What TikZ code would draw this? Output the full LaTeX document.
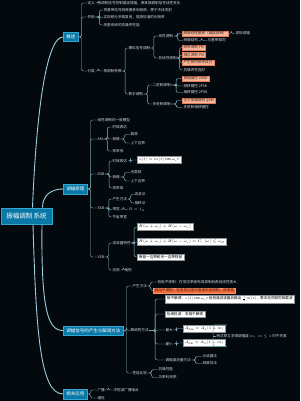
\documentclass[tikz,border=0pt]{standalone}
\usepackage{fix-cm}
\usepackage{amsmath}
\usepackage{fontspec}
\setmainfont{Noto Sans CJK SC}
\usetikzlibrary{calc}
\definecolor{MapBg}{HTML}{04090D}
\definecolor{MapBlue}{HTML}{0A78A6}
\definecolor{MapBlueLine}{HTML}{35A6D2}
\definecolor{TrunkTeal}{HTML}{9CCFDD}
\definecolor{TwigTeal}{HTML}{86B7C8}
\definecolor{LeafText}{HTML}{D4DADE}
\definecolor{Salmon}{HTML}{F7B59B}
\definecolor{SalmonLine}{HTML}{E27D5A}
\definecolor{SalmonText}{HTML}{3A2820}
\definecolor{AlertOrange}{HTML}{EE6A3A}
\definecolor{AlertLine}{HTML}{F8946A}
\definecolor{AlertText}{HTML}{4A1808}
\definecolor{FormLine}{HTML}{8C9296}
\definecolor{SumGreen}{HTML}{41A88F}

\begin{document}
\begin{tikzpicture}[
  x=1pt,y=-1pt,
  rootbox/.style={
    draw=MapBlueLine,
    fill=MapBlue,
    line width=0.7pt,
    text=white,
    font=\fontsize{6.5}{7.5}\selectfont,
    minimum width=51pt,
    minimum height=16pt,
    inner sep=1pt
  },
  mainbox/.style={
    anchor=west,
    draw=MapBlueLine,
    fill=MapBlue,
    line width=0.5pt,
    text=white,
    font=\fontsize{4.5}{5.2}\selectfont,
    minimum height=9.5pt,
    inner xsep=3pt,
    inner ysep=1pt
  },
  leaf/.style={
    anchor=west,
    text=LeafText,
    font=\fontsize{3.6}{4.2}\selectfont,
    inner sep=0.4pt
  },
  hotbox/.style={
    leaf,
    draw=SalmonLine,
    fill=Salmon,
    text=SalmonText,
    line width=0.35pt,
    inner xsep=1.4pt,
    inner ysep=0.9pt
  },
  alertbox/.style={
    leaf,
    draw=AlertLine,
    fill=AlertOrange,
    text=AlertText,
    line width=0.35pt,
    inner xsep=1.6pt,
    inner ysep=1pt
  },
  formbox/.style={
    leaf,
    draw=FormLine,
    fill=white,
    text=black,
    line width=0.35pt,
    inner xsep=1.8pt,
    inner ysep=1.6pt
  },
  trunk/.style={
    draw=TrunkTeal,
    line width=0.9pt
  },
  twig/.style={
    draw=TwigTeal,
    line width=0.45pt,
    rounded corners=2pt,
    to path={-- ++(#1,0) |- (\tikztotarget)}
  },
  twig/.default=3,
  sumline/.style={
    draw=SumGreen,
    line width=0.5pt,
    rounded corners=1.5pt
  }
]
\useasboundingbox (0,0) rectangle (300,401);
\fill[MapBg] (0,0) rectangle (300,401);

% -------------------------------------------------
% Root and main branches
% -------------------------------------------------
\node[rootbox] (root) at (26.5,216) {振幅调制 系统};

\node[mainbox] (b1) at (63,37) {概述};
\node[mainbox] (b2) at (63,189) {调幅原理};
\node[mainbox] (b3) at (63,330.5) {调幅信号的产生与解调方法};
\node[mainbox] (b4) at (63,394) {相关应用};

\draw[trunk] ([xshift=6]root.north) .. controls +(4,-100) and +(-16,0) .. (b1.west);
\draw[trunk] ([xshift=16]root.north) .. controls +(0,-13) and +(-11,0) .. (b2.west);
\draw[trunk] ([xshift=15.5]root.south) .. controls +(-1,86) and +(-15,0) .. (b3.west);
\draw[trunk] ([xshift=6.5]root.south) .. controls +(3,106) and +(-23,0) .. (b4.west);

% -------------------------------------------------
% 概述
% -------------------------------------------------
\node[leaf] (b1a) at (87,3) {定义};
\node[leaf] (b1a1) at (97,3) {用调制信号控制载波振幅，使其随调制信号线性变化};
\node[leaf] (b1b) at (87,17) {作用};
\node[leaf] (b1b1) at (103,10) {将基带信号频谱搬移到高频，便于天线发射};
\node[leaf] (b1b2) at (103,17.5) {实现频分多路复用，提高信道的利用率};
\node[leaf] (b1b3) at (103,25) {改善系统的抗噪声性能};
\node[leaf] (b1c) at (87,71) {分类};
\node[leaf] (b1c1) at (103,71) {按调制参数};

\node[leaf] (ana) at (128,48) {模拟信号调制};
\node[leaf] (lin) at (158,36) {线性调制};
\node[hotbox] (lin1) at (182,33.5) {频谱线性搬移（幅度调制）};
\node[leaf] (lin1x) at (235,33.5) {常规调幅};
\node[leaf] (lin2) at (183,40.5) {频谱结构};
\node[leaf] (lin2x) at (207,40.5) {与基带相同};
\node[leaf] (nlin) at (158,58) {非线性调制};
\node[hotbox] (nlin1) at (182,47.5) {频率调制 FM};
\node[hotbox] (nlin2) at (182,55) {相位调制 PM};
\node[hotbox] (nlin3) at (182,62.5) {产生新的频率成分};
\node[leaf] (nlin4) at (183,70) {抗噪声性能好};

\node[leaf] (dig) at (128,94) {数字调制};
\node[leaf] (bin) at (152,85) {二进制调制};
\node[hotbox] (bin1) at (182,78.5) {振幅键控 2ASK};
\node[leaf] (bin2) at (183,86) {频移键控 2FSK};
\node[leaf] (bin3) at (183,92.5) {相移键控 2PSK};
\node[leaf] (mul) at (152,104) {多进制调制};
\node[hotbox] (mul1) at (182,100.5) {正交振幅调制 QAM};
\node[leaf] (mul2) at (183,107.5) {多进制相移键控};

\path (b1.east) edge[twig] (b1a.west) edge[twig] (b1b.west) edge[twig] (b1c.west);
\path (b1a.east) edge[twig] (b1a1.west);
\path (b1b.east) edge[twig=4] (b1b1.west) edge[twig=4] (b1b2.west) edge[twig=4] (b1b3.west);
\path (b1c.east) edge[twig] (b1c1.west);
\path (b1c1.east) edge[twig] (ana.west) edge[twig] (dig.west);
\path (ana.east) edge[twig] (lin.west) edge[twig] (nlin.west);
\path (lin.east) edge[twig=4] (lin1.west) edge[twig=4] (lin2.west);
\path (lin1.east) edge[twig] (lin1x.west);
\path (lin2.east) edge[twig] (lin2x.west);
\path (nlin.east) edge[twig=2.5] (nlin1.west) edge[twig=2.5] (nlin2.west)
  edge[twig=2.5] (nlin3.west) edge[twig=2.5] (nlin4.west);
\path (dig.east) edge[twig=4] (bin.west) edge[twig=4] (mul.west);
\path (bin.east) edge[twig=5] (bin1.west) edge[twig=5] (bin2.west) edge[twig=5] (bin3.west);
\path (mul.east) edge[twig=5] (mul1.west) edge[twig=5] (mul2.west);

% -------------------------------------------------
% 调幅原理
% -------------------------------------------------
\node[leaf] (b2a) at (97,120) {线性调制的一般模型};

\node[leaf] (am) at (97,139) {AM};
\node[leaf] (am1) at (112,127) {时域表达};
\node[leaf] (am2) at (112,139) {频谱};
\node[leaf] (am2a) at (130,134.5) {载频};
\node[leaf] (am2b) at (130,143) {上下边带};
\node[leaf] (am3) at (112,151) {效率低};

\node[leaf] (dsb) at (97,174) {DSB};
\node[leaf] (dsb1) at (112,161) {时域表达};
\node[formbox] (dsbf) at (137,160) {$s(t)=m(t)\cos\omega_c t$};
\node[leaf] (dsb2) at (112,177) {频谱};
\node[leaf] (dsb2a) at (130,172.5) {无载频};
\node[leaf] (dsb2b) at (130,181) {上下边带};
\node[leaf] (dsb3) at (112,188) {效率高};

\node[leaf] (ssb) at (97,208) {SSB};
\node[leaf] (ssb1) at (112,199) {产生方法};
\node[leaf] (ssb1a) at (134,194.5) {滤波法};
\node[leaf] (ssb1b) at (134,203) {相移法};
\node[leaf] (ssb2) at (112,209.5) {带宽};
\node[leaf] (ssb2a) at (128,209.5) {$B=f_H$};
\node[leaf] (ssb3) at (112,217) {节省带宽};

\node[leaf] (vsb) at (97,257) {VSB};
\node[leaf] (vsb1) at (112,243) {滤波器特性};
\node[formbox] (vsbf1) at (137,227) {$H(\omega+\omega_c)+H(\omega-\omega_c)$};
\node[formbox] (vsbf2) at (137,242) {$H(\omega+\omega_c)+H(\omega-\omega_c)=C,\ |\omega|\le\omega_H$};
\node[formbox] (vsbf3) at (137,257) {保留一边带和另一边带残留};
\node[leaf] (vsb2) at (112,270) {应用};
\node[leaf] (vsb2a) at (124,270) {电视};

\path (b2.east) edge[twig] (b2a.west) edge[twig] (am.west) edge[twig] (dsb.west)
  edge[twig] (ssb.west) edge[twig] (vsb.west);
\path (am.east) edge[twig=4] (am1.west) edge[twig=4] (am2.west) edge[twig=4] (am3.west);
\path (am2.east) edge[twig=4] (am2a.west) edge[twig=4] (am2b.west);
\path (dsb.east) edge[twig=4] (dsb1.west) edge[twig=4] (dsb2.west) edge[twig=4] (dsb3.west);
\path (dsb1.east) edge[twig] (dsbf.west);
\path (dsb2.east) edge[twig=4] (dsb2a.west) edge[twig=4] (dsb2b.west);
\path (ssb.east) edge[twig=4] (ssb1.west) edge[twig=4] (ssb2.west) edge[twig=4] (ssb3.west);
\path (ssb1.east) edge[twig] (ssb1a.west) edge[twig] (ssb1b.west);
\path (ssb2.east) edge[twig] (ssb2a.west);
\path (vsb.east) edge[twig=4] (vsb1.west) edge[twig=4] (vsb2.west);
\path (vsb1.east) edge[twig] (vsbf1.west) edge[twig] (vsbf2.west) edge[twig] (vsbf3.west);
\path (vsb2.east) edge[twig] (vsb2a.west);

% -------------------------------------------------
% 调幅信号的产生与解调方法
% -------------------------------------------------
\node[leaf] (gen) at (132,286) {产生方法};
\node[leaf] (gen1) at (157,282) {低电平调制：在低功率级完成调制后再经线性放大};
\node[alertbox] (gen2) at (153,290.5) {高电平调制：在丙类功放中直接完成调制，效率高};

\node[leaf] (dem) at (130,330.5) {解调的方法};
\node[formbox] (dem1) at (165,299) {相干解调：$s(t)\cos\omega_c t$ 经低通滤波器后输出 $\tfrac{1}{2}m(t)$，需本地同频同相载波};
\node[formbox] (dem2) at (165,314) {包络检波：非相干解调};
\node[leaf] (dem3) at (165,330) {最大};
\node[formbox] (vmax) at (183,328.5) {$A_{\max}=A_0(1+m)$};
\node[leaf] (dem4) at (165,344) {最小};
\node[formbox] (vmin) at (183,343) {$A_{\min}=A_0(1-m)$};
\node[leaf] (msum) at (216,336) {两式联立求得调幅度 $m$，$m\le 1$ 时不失真};
\coordinate (sumx) at ([xshift=-3]msum.west);
\node[leaf] (dem5) at (165,360) {调幅度测量方法};
\node[leaf] (dem5a) at (202,356.5) {示波器法};
\node[leaf] (dem5b) at (202,363.5) {频谱仪法};

\node[leaf] (cmp) at (132,373) {性能比较};
\node[leaf] (cmp1) at (158,369.5) {抗噪性能};
\node[leaf] (cmp2) at (158,377.5) {功率利用率};

\path (b3.east) edge[twig] (gen.west) edge[twig] (dem.west) edge[twig] (cmp.west);
\path (gen.east) edge[twig] (gen1.west) edge[twig] (gen2.west);
\path (dem.east) edge[twig=6] (dem1.west) edge[twig=6] (dem2.west) edge[twig=6] (dem3.west)
  edge[twig=6] (dem4.west) edge[twig=6] (dem5.west);
\path (dem3.east) edge[twig] (vmax.west);
\path (dem4.east) edge[twig] (vmin.west);
\path (dem5.east) edge[twig=4] (dem5a.west) edge[twig=4] (dem5b.west);
\path (cmp.east) edge[twig=4] (cmp1.west) edge[twig=4] (cmp2.west);

% summary bracket
\draw[sumline] ([xshift=1.5]vmax.north east) -- (sumx |- vmax.north)
  -- (sumx |- vmin.south) -- ([xshift=1.5]vmin.south east);
\draw[sumline] (sumx) -- (msum.west);

% -------------------------------------------------
% 相关应用
% -------------------------------------------------
\node[leaf] (b4a) at (97,390) {广播};
\node[leaf] (b4a1) at (113,390) {中短波广播电台};
\node[leaf] (b4b) at (97,398) {通信};

\path (b4.east) edge[twig] (b4a.west) edge[twig] (b4b.west);
\path (b4a.east) edge[twig] (b4a1.west);

\end{tikzpicture}
\end{document}
